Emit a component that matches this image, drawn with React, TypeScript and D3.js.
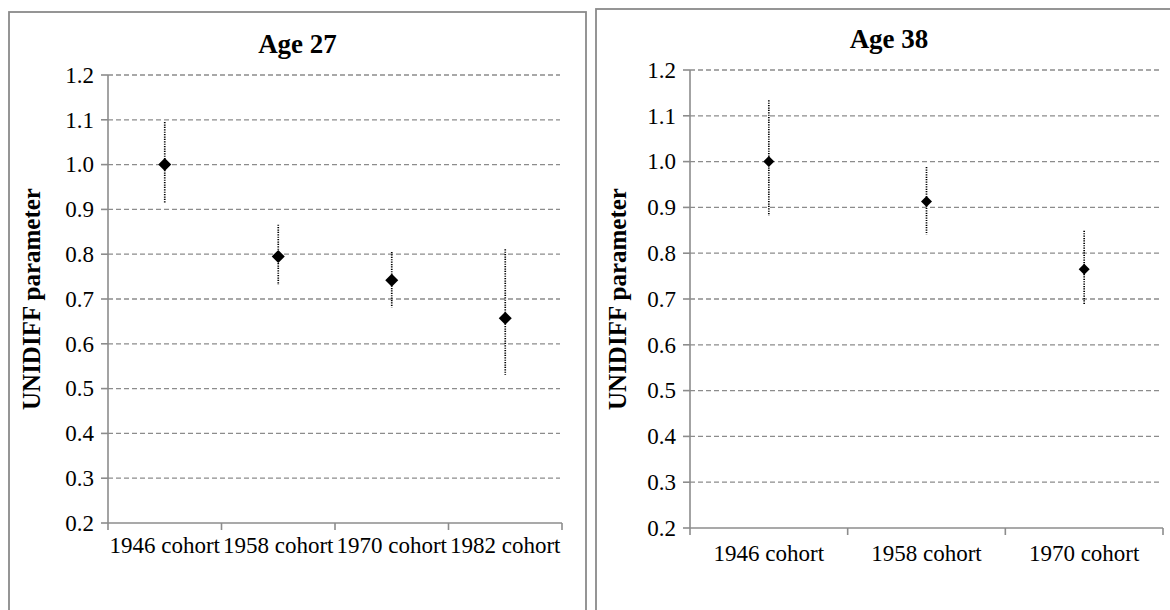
import React from 'react'
import * as d3 from 'd3'

// Age 27 panel
const cohorts27 = ['1946 cohort', '1958 cohort', '1970 cohort', '1982 cohort']
const est27 = [1.0, 0.795, 0.742, 0.657]
const low27 = [0.915, 0.731, 0.681, 0.531]
const high27 = [1.095, 0.866, 0.805, 0.811]

// Age 38 panel
const cohorts38 = ['1946 cohort', '1958 cohort', '1970 cohort']
const est38 = [1.0, 0.913, 0.765]
const low38 = [0.882, 0.841, 0.687]
const high38 = [1.134, 0.988, 0.849]

const yTicks = [0.2, 0.3, 0.4, 0.5, 0.6, 0.7, 0.8, 0.9, 1.0, 1.1, 1.2]

const FONT = 'Liberation Serif'
const GRID = '#8c8c8c'

type PanelProps = {
  title: string
  cats: string[]
  est: number[]
  low: number[]
  high: number[]
  box: [number, number, number, number]
  plot: { left: number; right: number; top: number; bottom: number }
  titleY: number
  labelX: number
  catY: number
  markerR: number
}

const Panel = ({ title, cats, est, low, high, box, plot, titleY, labelX, catY, markerR }: PanelProps) => {
  const x = d3.scaleBand().domain(cats).range([plot.left, plot.right]).paddingInner(0).paddingOuter(0)
  const y = d3.scaleLinear().domain([0.2, 1.2]).range([plot.bottom, plot.top])
  const fmt = d3.format('.1f')
  const bounds = [...cats.map((c) => x(c) as number), plot.right]
  const boxMid = box[0] + box[2] / 2
  const midY = (plot.top + plot.bottom) / 2
  // square turned 45deg, so width == height like the Excel marker
  const diamond = d3.symbol(d3.symbolSquare, 2 * markerR * markerR)()
  const txt = { fontFamily: FONT }

  return (
    <g>
      <rect x={box[0]} y={box[1]} width={box[2]} height={box[3]} fill="#fff" stroke="#8a8a8a" strokeWidth={1.8} />
      <text x={boxMid} y={titleY} textAnchor="middle" style={txt} fontWeight="bold" fontSize={27}>
        {title}
      </text>
      {/* gridlines */}
      {yTicks.slice(1).map((t) => (
        <line key={t} x1={plot.left} x2={plot.right - 2} y1={y(t)} y2={y(t)} stroke={GRID} strokeWidth={1.3} strokeDasharray="5,3" />
      ))}
      {/* y axis */}
      <line x1={plot.left} x2={plot.left} y1={plot.top} y2={plot.bottom} stroke={GRID} strokeWidth={1.6} />
      {yTicks.map((t) => (
        <g key={t}>
          <line x1={plot.left - 7} x2={plot.left} y1={y(t)} y2={y(t)} stroke={GRID} strokeWidth={1.6} />
          <text x={plot.left - 14} y={y(t)} dy="0.34em" textAnchor="end" style={txt} fontSize={23}>
            {fmt(t)}
          </text>
        </g>
      ))}
      {/* x axis */}
      <line x1={plot.left} x2={plot.right} y1={plot.bottom} y2={plot.bottom} stroke={GRID} strokeWidth={1.6} />
      {bounds.map((b, i) => (
        <line key={i} x1={b} x2={b} y1={plot.bottom} y2={plot.bottom + 7} stroke={GRID} strokeWidth={1.6} />
      ))}
      {cats.map((c) => (
        <text key={c} x={(x(c) as number) + x.bandwidth() / 2} y={catY} textAnchor="middle" style={txt} fontSize={23}>
          {c}
        </text>
      ))}
      <text
        transform={`translate(${labelX},${midY}) rotate(-90)`}
        textAnchor="middle"
        dy="0.35em"
        style={txt}
        fontWeight="bold"
        fontSize={25}
      >
        UNIDIFF parameter
      </text>
      {/* error bars and points */}
      {cats.map((c, i) => {
        const cx = (x(c) as number) + x.bandwidth() / 2
        return (
          <g key={c}>
            <line x1={cx} x2={cx} y1={y(high[i])} y2={y(low[i])} stroke="#000" strokeWidth={1.7} strokeDasharray="1.2,1.2" />
            <path d={diamond as string} transform={`translate(${cx},${y(est[i])}) rotate(45)`} fill="#000" />
          </g>
        )
      })}
    </g>
  )
}

export default function App() {
  return (
    <svg width={1170} height={610} style={{ position: 'absolute', left: 0, top: 0, background: '#fff' }}>
      <rect width={1170} height={610} fill="#fff" />
      <Panel
        title="Age 27"
        cats={cohorts27}
        est={est27}
        low={low27}
        high={high27}
        box={[9, 12, 577, 610]}
        plot={{ left: 108, right: 562, top: 75, bottom: 523 }}
        titleY={53}
        labelX={31}
        catY={553}
        markerR={6.5}
      />
      <Panel
        title="Age 38"
        cats={cohorts38}
        est={est38}
        low={low38}
        high={high38}
        box={[596, 9, 586, 620]}
        plot={{ left: 690, right: 1163, top: 70, bottom: 528 }}
        titleY={48}
        labelX={617}
        catY={561}
        markerR={5.5}
      />
    </svg>
  )
}
